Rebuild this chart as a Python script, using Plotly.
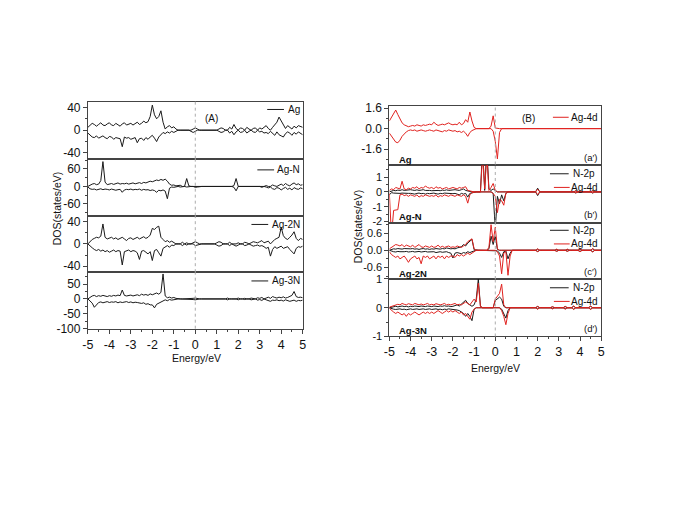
import plotly.graph_objects as go

# ---------------- data ----------------
E = [round(-5 + 0.1 * i, 1) for i in range(101)]  # energy grid (eV)

# Panel A: total DOS, spin up / spin down
A1_up = [5, 9, 12, 10, 7, 10, 13, 9, 8, 11,
         13, 9, 8, 12, 10, 7, 11, 13, 9, 10,
         12, 9, 11, 14, 10, 12, 16, 13, 15, 24,
         44, 27, 20, 24, 34, 14, 2, 6, 8, 4,
         6, 2, 0, 0, 0, 0, 0, 0, 0, 2,
         4, 2, 0, 0, 0, 0, 0, 0, 0, 0,
         0, 2, 4, 3, 0, 0, 5, 2, 10, 3,
         0, 4, 3, 0, 5, 2, 0, 3, 4, 0,
         4, 2, 5, 8, 3, 0, 5, 9, 14, 23,
         16, 9, 3, 8, 5, 2, 7, 4, 8, 6,
         5]
A1_dn = [-5, -9, -12, -13, -10, -14, -12, -10, -13, -15,
         -11, -12, -16, -13, -14, -15, -29, -12, -14, -13,
         -16, -14, -13, -22, -15, -14, -18, -13, -16, -12,
         -9, -14, -20, -12, -8, -4, -6, -3, -5, -2,
         -4, -2, 0, 0, 0, 0, 0, 0, -2, -4,
         -2, 0, 0, 0, 0, 0, 0, 0, 0, 0,
         0, -2, -4, -3, 0, 0, -5, -2, -8, -3,
         0, -4, -3, 0, -5, -2, 0, -3, -4, 0,
         -3, -2, -5, -4, -6, -2, -6, -9, -3, -8,
         -10, -12, -6, -3, -5, -9, -4, -7, -3, -6,
         -8]
A2_up = [0, 5, 8, 10, 6, 8, 20, 85, 15, 6,
         8, 10, 7, 9, 12, 8, 10, 9, 11, 8,
         10, 12, 9, 11, 13, 10, 14, 12, 15, 18,
         16, 19, 22, 20, 24, 21, 25, 18, 8, 4,
         5, 2, 3, 4, 0, 0, 27, 2, 0, 0,
         2, 1, 0, 0, 0, 0, 0, 0, 0, 0,
         0, 0, 2, 0, 0, 0, 0, 0, 3, 27,
         0, 0, 0, 0, 0, 0, 0, 2, 0, 0,
         0, 2, 0, 3, 0, 0, 5, 2, 0, 4,
         8, 3, 10, 5, 2, 8, 12, 6, 9, 4,
         6]
A2_dn = [-2, -8, -10, -9, -12, -10, -8, -11, -9, -10,
         -12, -9, -10, -13, -11, -10, -20, -12, -10, -11,
         -9, -12, -10, -11, -9, -13, -10, -12, -11, -14,
         -12, -14, -20, -13, -15, -12, -16, -42, -6, -2,
         -3, -1, 0, -2, 0, 0, -2, 0, 0, 0,
         -3, -2, 0, 0, 0, 0, 0, 0, 0, 0,
         0, 0, -2, 0, 0, 0, 0, 0, -3, -15,
         0, 0, 0, 0, 0, 0, 0, -2, 0, 0,
         0, -3, 0, -2, -5, -2, -8, -10, -4, -6,
         -12, -7, -3, -10, -6, -12, -4, -8, -10, -5,
         -8]
A3_up = [0, 4, 8, 10, 12, 11, 14, 36, 12, 9,
         10, 12, 9, 11, 8, 10, 12, 9, 6, 10,
         11, 8, 10, 12, 9, 11, 13, 10, 12, 16,
         28, 26, 30, 32, 12, 8, 4, 6, 3, 5,
         2, 0, 0, 0, 3, 0, 2, 0, 0, 2,
         4, 2, 0, 0, 0, 0, 0, 0, 0, 0,
         2, 4, 3, 0, 0, 0, 3, 0, 0, 0,
         2, 0, 0, 3, 2, 0, 2, 4, 3, 2,
         4, 6, 2, 3, 5, 0, 5, 8, 10, 12,
         30, 15, 10, 8, 12, 16, 22, 10, 6, 10,
         8]
A3_dn = [0, -4, -7, -10, -12, -10, -13, -11, -14, -12,
         -15, -13, -11, -14, -12, -13, -38, -14, -12, -11,
         -14, -12, -13, -16, -28, -13, -12, -15, -18, -14,
         -30, -12, -10, -16, -22, -8, -5, -3, -6, -2,
         -3, 0, 0, 0, -3, 0, -2, 0, 0, 0,
         -3, -2, 0, 0, 0, 0, 0, 0, 0, 0,
         -2, -4, -3, 0, 0, 0, -3, 0, -2, -4,
         -2, 0, 0, -3, -2, 0, -2, -4, -3, -2,
         -4, -3, -5, -8, -6, -22, -10, -5, -8, -6,
         -4, -8, -6, -5, -10, -14, -18, -8, -5, -6,
         -4]
A4_up = [0, 6, 10, 12, 8, 11, 9, 12, 10, 8,
         11, 9, 12, 10, 13, 11, 30, 12, 10, 11,
         13, 10, 12, 14, 11, 16, 13, 15, 12, 17,
         14, 18, 20, 16, 22, 84, 10, 4, 6, 3,
         5, 2, 0, 0, 0, 0, 0, 0, 0, 2,
         3, 1, 0, 0, 0, 0, 0, 0, 0, 0,
         0, 0, 2, 0, 0, 3, 0, 0, 0, 0,
         3, 0, 0, 2, 0, 0, 3, 2, 0, 4,
         2, 5, 0, 3, 6, 2, 8, 5, 3, 6,
         4, 7, 3, 5, 8, 12, 25, 8, 5, 6,
         4]
A4_dn = [0, -8, -14, -28, -18, -12, -10, -13, -11, -9,
         -12, -10, -11, -9, -13, -10, -12, -11, -9, -12,
         -10, -13, -11, -12, -14, -15, -13, -18, -16, -20,
         -20, -30, -18, -14, -10, -5, -3, -6, -2, -4,
         -2, 0, 0, 0, 0, 0, 0, 0, 0, -2,
         -3, -1, 0, 0, 0, 0, 0, 0, 0, 0,
         0, 0, -2, 0, 0, -3, 0, 0, 0, 0,
         -3, 0, 0, -2, 0, 0, -3, -2, 0, -4,
         -2, -5, 0, -3, -6, -8, -4, -5, -3, -6,
         -4, -7, -3, -5, -8, -6, -4, -8, -5, -6,
         -4]

# Panel B: partial DOS (Ag-4d red, N-2p black), spin up / spin down
B1_d_up = [0.6, 0.9, 1.2, 1.45, 1.1, 0.7, 0.45, 0.3, 0.2, 0.15,
           0.2, 0.25, 0.2, 0.3, 0.25, 0.2, 0.3, 0.25, 0.3, 0.35,
           0.3, 0.5, 0.35, 0.25, 0.3, 0.35, 0.3, 0.4, 0.45, 0.35,
           0.3, 0.35, 0.3, 0.5, 0.3, 0.4, 0.7, 0.5, 1.3, 0.6,
           0.1, 0, 0, 0, 0, 0, 0, 0, 0.2, 1.0,
           0.05, 0, 0, 0, 0, 0, 0, 0, 0, 0,
           0, 0, 0, 0, 0, 0, 0, 0, 0, 0.04,
           0.02, 0, 0, 0, 0, 0, 0, 0, 0, 0,
           0, 0, 0, 0, 0, 0, 0, 0, 0, 0.03,
           0.04, 0, 0, 0, 0, 0, 0, 0, 0, 0,
           0]
B1_d_dn = [-0.35, -0.6, -0.85, -1.05, -1.1, -0.9, -0.6, -0.4, -0.25, -0.15,
           -0.1, -0.15, -0.1, -0.2, -0.15, -0.1, -0.15, -0.2, -0.15, -0.1,
           -0.15, -0.2, -0.1, -0.15, -0.2, -0.25, -0.15, -0.2, -0.1, -0.15,
           -0.2, -0.15, -0.25, -0.2, -0.3, -0.2, -0.35, -0.6, -0.3, -0.15,
           -0.05, 0, 0, 0, 0, 0, 0, 0, 0, -0.2,
           -1.0, -2.36, -0.3, 0, 0, 0, 0, 0, 0, 0,
           0, 0, 0, 0, 0, 0, 0, 0, 0, -0.04,
           -0.02, 0, 0, 0, 0, 0, 0, 0, 0, 0,
           0, 0, 0, 0, 0, 0, 0, 0, 0, -0.03,
           -0.04, 0, 0, 0, 0, 0, 0, 0, 0, 0,
           0]

B2_N_up = [0.0, 0.05, 0.1, 0.08, 0.12, 0.1, 0.15, 0.1, 0.12, 0.1,
           0.15, 0.12, 0.1, 0.14, 0.1, 0.12, 0.15, 0.1, 0.12, 0.1,
           0.08, 0.1, 0.12, 0.1, 0.08, 0.12, 0.1, 0.14, 0.1, 0.12,
           0.1, 0.15, 0.12, 0.1, 0.15, 0.2, 0.1, 0.05, 0.05, 0.0,
           0.0, 0.0, 0.0, 0.0, 3.0, 0.1, 3.0, 0.2, 0.1, 0.2,
           0.1, 0, 0, 0, 0, 0, 0, 0, 0, 0,
           0, 0, 0, 0, 0, 0, 0, 0, 0, 0,
           0.25, 0, 0, 0, 0, 0, 0, 0, 0, 0,
           0, 0, 0, 0, 0, 0, 0, 0, 0.08, 0,
           0, 0, 0, 0, 0, 0, 0.08, 0, 0, 0,
           0]
B2_N_dn = [-0.2, -0.05, -0.08, -0.1, -0.12, -0.1, -0.08, -0.1, -0.12, -0.1,
           -0.1, -0.12, -0.15, -0.1, -0.08, -0.12, -0.1, -0.15, -0.1, -0.12,
           -0.1, -0.08, -0.12, -0.15, -0.1, -0.12, -0.08, -0.1, -0.12, -0.1,
           -0.12, -0.1, -0.15, -0.2, -0.1, -0.15, -0.1, -0.35, -0.1, -0.05,
           0, 0, 0, 0, 0, 0, 0, 0, 0, -0.1,
           -2.5, -0.3, -0.8, -0.2, -0.6, -0.1, 0, 0, 0, 0,
           0, 0, 0, 0, 0, 0, 0, 0, 0, 0,
           -0.25, 0, 0, 0, 0, 0, 0, 0, 0, 0,
           0, 0, 0, 0, 0, 0, 0, 0, -0.08, 0,
           0, 0, 0, 0, 0, 0, -0.08, 0, 0, 0,
           0]
B2_d_up = [0.1, 0.2, 0.15, 0.3, 0.25, 0.2, 0.72, 0.2, 0.15, 0.25,
           0.2, 0.3, 0.25, 0.35, 0.2, 0.3, 0.25, 0.4, 0.3, 0.25,
           0.3, 0.2, 0.35, 0.25, 0.3, 0.2, 0.25, 0.3, 0.2, 0.25,
           0.3, 0.25, 0.2, 0.3, 0.25, 0.3, 0.35, 0.1, 0.05, 0.0,
           0, 0, 0, 0, 2.5, 0.2, 2.5, 0.1, 0.3, 0.57,
           0.1, 0, 0, 0, 0, 0, 0, 0, 0, 0,
           0, 0, 0, 0, 0, 0, 0, 0, 0, 0,
           0.18, 0, 0, 0, 0, 0, 0, 0, 0, 0,
           0, 0, 0, 0, 0, 0, 0, 0, 0.06, 0,
           0, 0, 0, 0, 0, 0, 0.06, 0, 0, 0,
           0]
B2_d_dn = [-0.1, -3.0, -1.25, -1.2, -1.2, -0.2, -0.15, -0.25, -0.2, -0.3,
           -0.2, -0.25, -0.3, -0.2, -0.35, -0.25, -0.3, -0.2, -0.25, -0.3,
           -0.25, -0.3, -0.2, -0.35, -0.25, -0.3, -0.2, -0.25, -0.3, -0.2,
           -0.25, -0.3, -0.2, -0.25, -0.3, -0.2, -0.3, -0.76, -0.2, -0.05,
           0, 0, 0, 0, 0, 0, 0, 0, 0, -0.1,
           -0.3, -1.4, -0.5, -0.6, -0.9, -0.1, 0, 0, 0, 0,
           0, 0, 0, 0, 0, 0, 0, 0, 0, 0,
           -0.18, 0, 0, 0, 0, 0, 0, 0, 0, 0,
           0, 0, 0, 0, 0, 0, 0, 0, -0.06, 0,
           0, 0, 0, 0, 0, 0, -0.06, 0, 0, 0,
           0]

B3_N_up = [0.0, 0.03, 0.05, 0.04, 0.06, 0.05, 0.04, 0.06, 0.05, 0.04,
           0.05, 0.06, 0.04, 0.05, 0.03, 0.05, 0.06, 0.04, 0.05, 0.03,
           0.05, 0.04, 0.06, 0.05, 0.04, 0.06, 0.05, 0.08, 0.06, 0.05,
           0.06, 0.05, 0.08, 0.1, 0.12, 0.2, 0.15, 0.25, 0.3, 0.38,
           0.02, 0, 0, 0, 0, 0, 0, 0.05, 0.49, 0.2,
           0.5, 0.03, 0, 0, 0, 0, 0, 0, 0, 0,
           0, 0, 0, 0, 0, 0, 0, 0, 0, 0,
           0.04, 0, 0, 0, 0, 0, 0, 0, 0, 0.03,
           0, 0, 0, 0, 0.03, 0, 0, 0, 0, 0,
           0.04, 0, 0, 0, 0, 0, 0.05, 0, 0, 0,
           0]
B3_N_dn = [0.0, -0.03, -0.05, -0.06, -0.04, -0.05, -0.06, -0.05, -0.04, -0.06,
           -0.05, -0.04, -0.06, -0.05, -0.04, -0.06, -0.05, -0.04, -0.06, -0.05,
           -0.06, -0.05, -0.08, -0.06, -0.05, -0.07, -0.06, -0.05, -0.08, -0.1,
           -0.27, -0.1, -0.08, -0.1, -0.12, -0.08, -0.1, -0.05, -0.08, -0.05,
           -0.02, 0, 0, 0, 0, 0, 0, 0, 0, 0,
           0, -0.02, -0.1, -0.25, -0.05, -0.02, -0.3, -0.1, 0, 0,
           0, 0, 0, 0, 0, 0, 0, 0, 0, 0,
           -0.04, 0, 0, 0, 0, 0, 0, 0, 0, -0.03,
           0, 0, 0, 0, -0.03, 0, 0, 0, 0, 0,
           -0.04, 0, 0, 0, 0, 0, -0.05, 0, 0, 0,
           0]
B3_d_up = [0.05, 0.1, 0.15, 0.2, 0.18, 0.15, 0.2, 0.12, 0.18, 0.15,
           0.12, 0.18, 0.1, 0.15, 0.2, 0.12, 0.1, 0.15, 0.12, 0.1,
           0.15, 0.1, 0.12, 0.18, 0.1, 0.14, 0.1, 0.12, 0.15, 0.1,
           0.12, 0.1, 0.15, 0.12, 0.1, 0.15, 0.2, 0.3, 0.35, 0.4,
           0.05, 0, 0, 0, 0, 0, 0, 0.1, 0.89, 0.3,
           0.8, 0.05, 0, 0, 0, 0, 0, 0, 0, 0,
           0, 0, 0, 0, 0, 0, 0, 0, 0, 0,
           0.05, 0, 0, 0, 0, 0, 0, 0, 0, 0.04,
           0, 0, 0, 0, 0.04, 0, 0, 0, 0, 0,
           0.05, 0, 0, 0, 0, 0, 0.06, 0, 0, 0,
           0]
B3_d_dn = [-0.05, -0.15, -0.2, -0.25, -0.2, -0.3, -0.25, -0.2, -0.3, -0.42,
           -0.3, -0.25, -0.2, -0.3, -0.25, -0.47, -0.2, -0.25, -0.2, -0.3,
           -0.25, -0.2, -0.3, -0.2, -0.25, -0.2, -0.3, -0.2, -0.25, -0.2,
           -0.2, -0.25, -0.15, -0.2, -0.15, -0.2, -0.15, -0.1, -0.15, -0.1,
           -0.05, 0, 0, 0, 0, 0, 0, 0, 0, 0,
           0, -0.05, -0.2, -0.82, -0.1, -0.05, -0.87, -0.2, 0, 0,
           0, 0, 0, 0, 0, 0, 0, 0, 0, 0,
           -0.05, 0, 0, 0, 0, 0, 0, 0, 0, -0.04,
           0, 0, 0, 0, -0.04, 0, 0, 0, 0, 0,
           -0.05, 0, 0, 0, 0, 0, -0.06, 0, 0, 0,
           0]

B4_N_up = [0.0, 0.02, 0.04, 0.05, 0.03, 0.05, 0.06, 0.04, 0.05, 0.03,
           0.05, 0.04, 0.06, 0.05, 0.04, 0.06, 0.05, 0.04, 0.06, 0.05,
           0.04, 0.06, 0.05, 0.04, 0.06, 0.05, 0.07, 0.05, 0.06, 0.04,
           0.05, 0.08, 0.1, 0.06, 0.12, 0.2, 0.26, 0.15, 0.1, 0.05,
           0.1, 0.3, 1.0, 0.05, 0, 0, 0, 0, 0, 0,
           0.25, 0.3, 0.37, 0.3, 0.05, 0, 0, 0, 0, 0,
           0, 0, 0, 0, 0, 0, 0, 0, 0, 0,
           0.04, 0, 0, 0, 0, 0, 0, 0.03, 0, 0,
           0, 0, 0, 0.04, 0, 0, 0, 0.05, 0, 0,
           0, 0, 0, 0, 0, 0.05, 0, 0, 0, 0,
           0]
B4_N_dn = [0.0, -0.03, -0.05, -0.06, -0.05, -0.04, -0.06, -0.05, -0.07, -0.05,
           -0.04, -0.06, -0.05, -0.04, -0.06, -0.05, -0.04, -0.06, -0.05, -0.04,
           -0.06, -0.05, -0.04, -0.06, -0.05, -0.07, -0.05, -0.06, -0.04, -0.05,
           -0.06, -0.05, -0.08, -0.1, -0.15, -0.2, -0.3, -0.2, -0.3, -0.45,
           -0.05, 0, 0, 0, 0, 0, 0, 0, 0, 0,
           0, 0, 0, -0.05, -0.2, -0.36, -0.1, 0, 0, 0,
           0, 0, 0, 0, 0, 0, 0, 0, 0, 0,
           -0.04, 0, 0, 0, 0, 0, 0, -0.03, 0, 0,
           0, 0, 0, -0.04, 0, 0, 0, -0.05, 0, 0,
           0, 0, 0, 0, 0, -0.05, 0, 0, 0, 0,
           0]
B4_d_up = [0.02, 0.05, 0.08, 0.1, 0.12, 0.1, 0.15, 0.12, 0.1, 0.14,
           0.12, 0.1, 0.15, 0.12, 0.1, 0.13, 0.1, 0.12, 0.15, 0.1,
           0.12, 0.1, 0.14, 0.12, 0.1, 0.12, 0.15, 0.1, 0.12, 0.1,
           0.12, 0.15, 0.1, 0.12, 0.1, 0.15, 0.2, 0.15, 0.1, 0.2,
           0.3, 0.2, 0.85, 0.05, 0, 0, 0, 0, 0, 0,
           0.3, 0.4, 0.5, 0.82, 0.1, 0, 0, 0, 0, 0,
           0, 0, 0, 0, 0, 0, 0, 0, 0, 0,
           0.05, 0, 0, 0, 0, 0, 0, 0.04, 0, 0,
           0, 0, 0, 0.05, 0, 0, 0, 0.06, 0, 0,
           0, 0, 0, 0, 0, 0.06, 0, 0, 0, 0,
           0]
B4_d_dn = [-0.02, -0.1, -0.15, -0.2, -0.15, -0.2, -0.25, -0.2, -0.3, -0.2,
           -0.25, -0.2, -0.15, -0.2, -0.25, -0.2, -0.15, -0.2, -0.15, -0.2,
           -0.15, -0.2, -0.15, -0.1, -0.15, -0.2, -0.15, -0.1, -0.15, -0.1,
           -0.15, -0.1, -0.15, -0.2, -0.15, -0.25, -0.2, -0.3, -0.4, -0.15,
           -0.05, 0, 0, 0, 0, 0, 0, 0, 0, 0,
           0, 0, 0, -0.1, -0.3, -0.59, -0.2, 0, 0, 0,
           0, 0, 0, 0, 0, 0, 0, 0, 0, 0,
           -0.05, 0, 0, 0, 0, 0, 0, -0.04, 0, 0,
           0, 0, 0, -0.05, 0, 0, 0, -0.06, 0, 0,
           0, 0, 0, 0, 0, -0.06, 0, 0, 0, 0,
           0]

X_TICKS = [-5, -4, -3, -2, -1, 0, 1, 2, 3, 4, 5]
A_NAMES = ["Ag", "Ag-N", "Ag-2N", "Ag-3N"]
B_NAMES = ["Ag", "Ag-N", "Ag-2N", "Ag-3N"]
B_TAGS = ["(a′)", "(b′)", "(c′)", "(d′)"]

# ---------------- layout helpers ----------------
# the page body has an 8px margin, so the figure is drawn 8px in from the window corner
OFF = 8
W, H = 685 - OFF, 513 - OFF
def px(x): return (x - OFF) / W
def py(y): return 1 - (y - OFF) / H

BLACK = "#1a1a1a"
RED = "#e0221f"
AXC = "#444444"
FONT = "Liberation Sans, Arial, sans-serif"

A_X = (83, 301)
A_Y = [(98, 156.5), (156.5, 215), (215, 273), (273, 331)]
B_X = (389, 604)
B_Y = [(102, 162.5), (162.5, 222.5), (222.5, 280), (280, 339)]

subs = [
    dict(x=A_X, y=A_Y[0], yr=[-50, 50], tv=[-40, 0, 40], minor=20, fs=12,
         series=[(A1_up, BLACK), (A1_dn, BLACK)]),
    dict(x=A_X, y=A_Y[1], yr=[-100, 95], tv=[-60, 0, 60], minor=30, fs=12,
         series=[(A2_up, BLACK), (A2_dn, BLACK)]),
    dict(x=A_X, y=A_Y[2], yr=[-51, 51], tv=[-40, 0, 40], minor=20, fs=12,
         series=[(A3_up, BLACK), (A3_dn, BLACK)]),
    dict(x=A_X, y=A_Y[3], yr=[-100, 90], tv=[-100, -50, 0, 50], minor=25, fs=12,
         series=[(A4_up, BLACK), (A4_dn, BLACK)], bottom=True),
    dict(x=B_X, y=B_Y[0], yr=[-2.8, 1.8], tv=[-1.6, 0, 1.6], tt=["-1.6", "0.0", "1.6"], minor=0.8, fs=12,
         series=[(B1_d_up, RED), (B1_d_dn, RED)]),
    dict(x=B_X, y=B_Y[1], yr=[-2.1, 1.85], tv=[-2, -1, 0, 1], minor=0.5, fs=11,
         series=[(B2_N_up, BLACK), (B2_N_dn, BLACK), (B2_d_up, RED), (B2_d_dn, RED)]),
    dict(x=B_X, y=B_Y[2], yr=[-1.0, 0.95], tv=[-0.6, 0, 0.6], tt=["-0.6", "0.0", "0.6"], minor=0.3, fs=11,
         series=[(B3_N_up, BLACK), (B3_N_dn, BLACK), (B3_d_up, RED), (B3_d_dn, RED)]),
    dict(x=B_X, y=B_Y[3], yr=[-1.0, 1.0], tv=[-1, 0, 1], minor=0.5, fs=11,
         series=[(B4_N_up, BLACK), (B4_N_dn, BLACK), (B4_d_up, RED), (B4_d_dn, RED)], bottom=True),
]

fig = go.Figure()
layout = {}
shapes = []
for k, s in enumerate(subs, start=1):
    xa = "x" if k == 1 else f"x{k}"
    ya = "y" if k == 1 else f"y{k}"
    for vals, col in s["series"]:
        assert len(vals) == len(E), (k, len(vals))
        fig.add_trace(go.Scatter(x=E, y=vals, mode="lines", xaxis=xa, yaxis=ya,
                                 line=dict(color=col, width=1), showlegend=False,
                                 hoverinfo="skip"))
    bottom = s.get("bottom", False)
    xkey = "xaxis" if k == 1 else f"xaxis{k}"
    ykey = "yaxis" if k == 1 else f"yaxis{k}"
    layout[xkey] = dict(
        domain=[px(s["x"][0]), px(s["x"][1])], anchor=ya, range=[-5, 5],
        showline=True, linecolor=AXC, linewidth=1, mirror=True,
        showgrid=False, zeroline=False,
        tickmode="array", tickvals=X_TICKS, ticktext=[str(v) for v in X_TICKS],
        ticks="outside" if bottom else "", ticklen=4, tickcolor=AXC,
        showticklabels=bottom, tickfont=dict(size=12.5, color="#111", family=FONT),
        minor=dict(tickmode="linear", tick0=-5, dtick=0.5, ticks="outside" if bottom else "",
                   ticklen=2, tickcolor=AXC),
    )
    tt = s.get("tt", [str(v) for v in s["tv"]])
    layout[ykey] = dict(
        domain=[py(s["y"][1]), py(s["y"][0])], anchor=xa, range=s["yr"],
        showline=True, linecolor=AXC, linewidth=1, mirror=True,
        showgrid=False, zeroline=False,
        tickmode="array", tickvals=s["tv"], ticktext=tt,
        ticks="outside", ticklen=4, tickcolor=AXC,
        tickfont=dict(size=s["fs"], color="#111", family=FONT),
        minor=dict(tickmode="linear", tick0=0, dtick=s["minor"], ticks="outside",
                   ticklen=2, tickcolor=AXC),
    )
    # dotted Fermi level line
    shapes.append(dict(type="line", xref=xa, yref=f"{ya} domain", x0=0, x1=0, y0=0, y1=1,
                       line=dict(color="#ababab", width=1, dash="dot"), layer="above"))

ann = []
def text(x, y, t, size=10.5, xanchor="left", bold=False, angle=0):
    ann.append(dict(xref="paper", yref="paper", x=px(x), y=py(y), text=(f"<b>{t}</b>" if bold else t),
                    showarrow=False, xanchor=xanchor, yanchor="middle", textangle=angle,
                    font=dict(size=size, color="#111", family=FONT)))
def legline(x0, x1, y, col):
    shapes.append(dict(type="line", xref="paper", yref="paper", x0=px(x0), x1=px(x1),
                       y0=py(y), y1=py(y), line=dict(color=col, width=1)))

# Panel A texts
text(208, 115, "(A)", size=10, xanchor="center")
a_leg = [(265, 282, 106), (255, 272, 168), (249, 266, 224), (249, 266, 282)]
for (x0, x1, y), name in zip(a_leg, A_NAMES):
    legline(x0, x1, y, BLACK)
    text(300, y, name, size=10, xanchor="right")
text(52, 207, "DOS(states/eV)", size=10.5, xanchor="center", angle=-90)
text(193, 361, "Energy/eV", size=10.5, xanchor="center")

# Panel B texts
text(530, 115, "(B)", size=10, xanchor="center")
legline(555, 571, 114, RED)
text(603, 114, "Ag-4d", size=10, xanchor="right")
for yN in (172, 230, 289):
    legline(552, 571, yN, BLACK)
    text(600, yN, "N-2p", size=10, xanchor="right")
    legline(556, 572, yN + 14, RED)
    text(603, yN + 14, "Ag-4d", size=10, xanchor="right")
for name, tag, yb in zip(B_NAMES, B_TAGS, (157, 216, 274, 333)):
    text(397, yb, name, size=9.5, bold=True)
    text(602, yb - 2, tag, size=9.5, xanchor="right")
text(358, 226, "DOS(states/eV)", size=10.5, xanchor="center", angle=-90)
text(497, 371, "Energy/eV", size=10.5, xanchor="center")

fig.update_layout(
    width=W, height=H, margin=dict(l=0, r=0, t=0, b=0),
    paper_bgcolor="white", plot_bgcolor="white", showlegend=False,
    font=dict(family=FONT, color="#111"),
    shapes=shapes, annotations=ann, **layout,
)
fig.write_html("out.html")
